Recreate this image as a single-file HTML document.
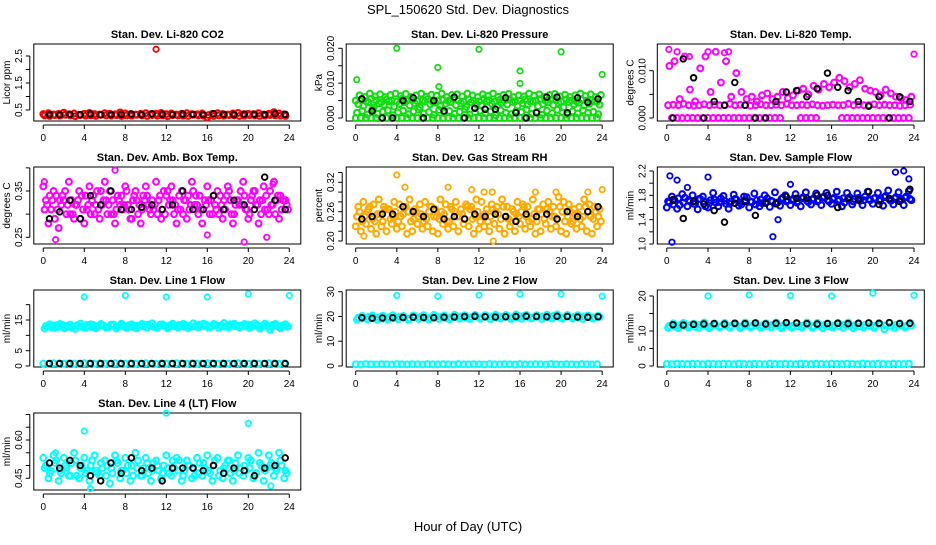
<!DOCTYPE html>
<html><head><meta charset="utf-8"><style>
body{margin:0;background:#fff;}
svg text{font-family:"Liberation Sans",Arial,sans-serif;}
</style></head><body>
<svg id="chart" width="936" height="540" viewBox="0 0 936 540" xmlns="http://www.w3.org/2000/svg">
<rect width="936" height="540" fill="#fff"/>
<text x="468" y="14" font-size="13" text-anchor="middle">SPL_150620  Std. Dev. Diagnostics</text>
<text x="468" y="531" font-size="13" text-anchor="middle">Hour of Day (UTC)</text>
</svg>
<script>
const co2A=[0.35,0.38,0.33,0.36,0.4,0.34,0.37,0.32,0.36,0.39,0.35,0.33,0.38,0.36,0.34,0.41,0.37,0.35,0.33,0.36,0.38,0.34,0.36,0.39,0.35,0.37,0.33,0.36,0.38,0.35,0.34,0.37,0.22,0.36,0.38,0.35,0.33,0.37,0.39,0.34,0.36,0.35,0.38,0.33,0.36,0.42,0.37,0.34];
const co2B=[0.3,0.28,0.31,0.29,0.32,0.3,0.27,0.31,0.29,0.3,0.28,0.32,0.3,0.29,0.31,0.28,0.3,0.29,0.32,0.3,0.28,0.31,0.29,0.3,0.27,0.31,0.3,0.29,0.28,0.32,0.3,0.29,0.31,0.28,0.3,0.29,0.31,0.3,0.28,0.29,0.31,0.3,0.28,0.29,0.31,0.3,0.29,0.28];
const co2K=[0.33,0.32,0.34,0.33,0.35,0.32,0.33,0.34,0.35,0.33,0.36,0.34,0.33,0.35,0.34,0.33,0.36,0.34,0.33,0.35,0.34,0.33,0.36,0.34];
const co2OutH=[11]; const co2OutV=[2.75];

const pressA=[0.0065,0.006,0.007,0.0062,0.0068,0.006,0.0066,0.007,0.0063,0.0069,0.006,0.0065,0.007,0.0061,0.0067,0.0064,0.007,0.006,0.0066,0.0068,0.0062,0.007,0.0065,0.006,0.0068,0.0063,0.007,0.0061,0.0066,0.0069,0.006,0.0065,0.0062,0.007,0.0064,0.0068,0.006,0.0066,0.0069,0.0062,0.0067,0.006,0.0065,0.007,0.0063,0.0068,0.006,0.0066];
const pressB=[0.004,0.0035,0.0045,0.003,0.0042,0.0038,0.0048,0.0033,0.004,0.0045,0.0036,0.0042,0.003,0.0047,0.0039,0.0044,0.0034,0.0041,0.0046,0.0037,0.0043,0.0032,0.0045,0.004,0.0036,0.0048,0.0041,0.0033,0.0044,0.0039,0.0046,0.0035,0.0042,0.0038,0.0047,0.0034,0.004,0.0045,0.0037,0.0043,0.0031,0.0046,0.0039,0.0044,0.0036,0.0041,0.0047,0.0038];
const pressC=[0.0015,0.002,0.001,0.0025,0.0012,0.0018,0.0022,0.0008,0.0016,0.0021,0.0011,0.0019,0.0024,0.0013,0.0017,0.0009,0.0023,0.0014,0.002,0.0012,0.0018,0.0025,0.001,0.0016,0.0021,0.0013,0.0019,0.0008,0.0022,0.0015,0.0011,0.002,0.0017,0.0024,0.0012,0.0018,0.0009,0.0021,0.0014,0.0023,0.0016,0.001,0.0019,0.0013,0.0022,0.0015,0.0018,0.0011];
const pressD=[0,0,0,0,0,0,0,0,0,0,0,0,0,0,0,0,0,0,0,0,0,0,0,0,0,0,0,0,0,0,0,0,0,0,0,0,0,0,0,0,0,0,0,0,0,0,0,0];
const pressE=[0.005,0.0052,0.0048,0.0055,0.005,0.0045,0.0053,0.005,0.0047,0.0055,0.005,0.0052,0.0048,0.005,0.0054,0.0046,0.005,0.0052,0.0049,0.0055,0.005,0.0047,0.0053,0.005,0.0048,0.0055,0.0051,0.0046,0.0052,0.005,0.0054,0.0048,0.005,0.0053,0.0047,0.005,0.0055,0.0049,0.0052,0.005,0.0046,0.0054,0.005,0.0048,0.0053,0.005,0.0051,0.0047];
const pressK=[0.0055,0.002,0,0,0.005,0.0058,0,0.005,0.002,0.006,0,0.0028,0.0025,0.0025,0.0058,0.0015,0,0.0015,0.006,0.006,0.0015,0.0058,0.0045,0.0055];
const pressOutH=[0.1,4,8,8.1,12,16,16,20,24]; const pressOutV=[0.011,0.02,0.0145,0.009,0.0197,0.0135,0.0099,0.019,0.0125];

const tempA=[0.0027,0.0028,0.0027,0.003,0.0027,0.0026,0.0027,0.0029,0.0027,0.0028,0.0027,0.0027,0.003,0.0027,0.0028,0.0027,0.0026,0.0027,0.0029,0.0027,0.0027,0.0028,0.0027,0.003,0.0027,0.0027,0.0028,0.0027,0.0029,0.0027,0.0026,0.0027,0.0028,0.0027,0.0027,0.003,0.0027,0.0028,0.0027,0.0027,0.0029,0.0027,0.0028,0.0027,0.0027,0.0026,0.0027,0.0028];
const tempB=[0.011,0.012,0.004,0.013,0.006,0.0035,0.0105,0.013,0.0055,0.014,0.0075,0.012,0.0045,0.0095,0.0055,0.004,0.0045,0.0035,0.0048,0.0052,0.004,0.0045,0.0055,0.0042,0.0048,0.0058,0.0062,0.005,0.0068,0.006,0.0072,0.0065,0.0075,0.0085,0.0078,0.0065,0.0072,0.008,0.0062,0.0058,0.0055,0.0048,0.006,0.0052,0.0045,0.0042,0.0038,0.0045];
const tempC=[null,0,0,0,0,0,0,0,0,0,0,0,0,0,0,0,0,0,0,0,0,0,0,null,null,null,0,0,0,0,null,null,null,null,0,0,0,0,0,0,0,0,0,0,0,0,0,0];
const tempK=[0,0.0125,0.0085,0,0.0035,0.0027,0.0075,0.0027,0,0,0.0035,0.0055,0.0058,0.0045,0.0062,0.0095,0.0065,0.0058,0.0035,0.0025,0.0045,0,0.0045,0.0035];
const tempOutH=[0.2,1,4,6,24,2.2,5.6]; const tempOutV=[0.0145,0.014,0.014,0.014,0.0135,0.013,0.0138];

const ambA=[0.33,0.31,0.34,0.32,0.3,0.33,0.32,0.34,0.31,0.33,0.35,0.32,0.3,0.33,0.34,0.31,0.32,0.33,0.3,0.34,0.32,0.31,0.33,0.35,0.32,0.3,0.34,0.33,0.31,0.32,0.34,0.33,0.3,0.32,0.34,0.31,0.33,0.32,0.35,0.31,0.33,0.32,0.3,0.34,0.32,0.33,0.31,0.32];
const ambB=[0.31,0.34,0.29,0.33,0.35,0.3,0.32,0.29,0.34,0.3,0.32,0.35,0.33,0.3,0.31,0.34,0.35,0.29,0.33,0.31,0.34,0.33,0.3,0.31,0.35,0.33,0.31,0.3,0.34,0.35,0.3,0.31,0.33,0.34,0.3,0.33,0.35,0.3,0.32,0.34,0.3,0.35,0.33,0.31,0.35,0.3,0.34,0.33];
const ambC=[0.36,0.28,0.35,0.27,0.33,0.37,0.29,0.35,0.28,0.36,0.3,0.29,0.37,0.35,0.28,0.32,0.36,0.29,0.35,0.28,0.36,0.3,0.37,0.29,0.34,0.36,0.28,0.35,0.29,0.37,0.32,0.28,0.36,0.3,0.35,0.29,0.36,0.28,0.33,0.37,0.29,0.35,0.28,0.36,0.3,0.37,0.29,0.33];
const ambD=[0.32,0.33,0.31,0.34,0.32,0.3,0.33,0.31,0.32,0.34,0.31,0.33,0.32,0.3,0.33,0.32,0.31,0.34,0.32,0.33,0.31,0.32,0.34,0.3,0.33,0.32,0.31,0.33,0.32,0.34,0.31,0.32,0.33,0.31,0.32,0.34,0.3,0.33,0.32,0.31,0.34,0.32,0.33,0.31,0.32,0.34,0.33,0.31];
const ambK=[0.29,0.305,0.33,0.29,0.34,0.32,0.35,0.31,0.31,0.315,0.32,0.31,0.32,0.35,0.31,0.31,0.34,0.31,0.33,0.32,0.31,0.38,0.33,0.31];
const ambOutH=[7,1.2,16,19.6,21.8,22.4,0.1]; const ambOutV=[0.395,0.245,0.255,0.24,0.25,0.365,0.37];

const rhA=[0.25,0.24,0.26,0.245,0.255,0.24,0.265,0.25,0.24,0.255,0.26,0.245,0.25,0.24,0.26,0.25,0.245,0.255,0.24,0.26,0.25,0.245,0.265,0.25,0.24,0.255,0.25,0.26,0.245,0.25,0.24,0.255,0.26,0.25,0.245,0.24,0.255,0.265,0.25,0.245,0.26,0.25,0.24,0.255,0.25,0.26,0.245,0.25];
const rhB=[0.27,0.28,0.265,0.275,0.285,0.27,0.265,0.28,0.275,0.27,0.285,0.265,0.275,0.28,0.27,0.265,0.285,0.275,0.27,0.28,0.265,0.275,0.27,0.285,0.28,0.265,0.275,0.27,0.285,0.27,0.265,0.28,0.275,0.27,0.285,0.265,0.275,0.28,0.27,0.29,0.28,0.275,0.265,0.27,0.285,0.275,0.27,0.265];
const rhC=[0.23,0.22,0.235,0.225,0.215,0.23,0.22,0.235,0.225,0.23,0.215,0.22,0.235,0.225,0.23,0.22,0.215,0.235,0.225,0.23,0.22,0.235,0.23,0.215,0.225,0.23,0.22,0.235,0.225,0.215,0.23,0.22,0.235,0.225,0.23,0.215,0.22,0.235,0.225,0.23,0.22,0.215,0.235,0.225,0.23,0.22,0.215,0.23];
const rhD=[0.26,0.25,0.27,0.24,0.255,0.265,0.245,0.26,0.25,0.27,0.24,0.26,0.255,0.245,0.27,0.25,0.26,0.24,0.265,0.25,0.255,0.27,0.245,0.26,0.25,0.24,0.265,0.255,0.27,0.245,0.26,0.25,0.27,0.24,0.255,0.265,0.245,0.26,0.25,0.27,0.24,0.26,0.255,0.245,0.27,0.25,0.26,0.24];
const rhK=[0.245,0.25,0.255,0.255,0.27,0.26,0.25,0.265,0.245,0.25,0.245,0.255,0.25,0.255,0.25,0.24,0.255,0.25,0.255,0.245,0.26,0.25,0.26,0.27];
const rhOutH=[4,4.8,9,11.3,12.5,13.3,17.5,19.5,22.6,24,13.4,0.8]; const rhOutV=[0.335,0.31,0.31,0.305,0.3,0.3,0.3,0.3,0.3,0.305,0.2,0.21];

const flowA=[1.7,1.65,1.75,1.68,1.72,1.66,1.74,1.7,1.67,1.73,1.69,1.71,1.66,1.74,1.68,1.72,1.7,1.65,1.73,1.69,1.71,1.67,1.74,1.7,1.72,1.68,1.75,1.71,1.73,1.7,1.76,1.72,1.74,1.71,1.75,1.73,1.7,1.76,1.72,1.74,1.75,1.71,1.77,1.73,1.75,1.72,1.76,1.74];
const flowB=[1.6,1.78,1.58,1.82,1.62,1.8,1.57,1.78,1.6,1.84,1.62,1.79,1.58,1.81,1.63,1.78,1.6,1.83,1.62,1.8,1.61,1.85,1.63,1.8,1.64,1.82,1.62,1.85,1.65,1.83,1.64,1.84,1.66,1.86,1.62,1.84,1.65,1.83,1.64,1.86,1.66,1.84,1.63,1.88,1.65,1.85,1.64,1.87];
const flowC=[1.68,1.72,1.64,1.76,1.7,1.66,1.74,1.62,1.72,1.68,1.75,1.66,1.7,1.73,1.65,1.77,1.69,1.72,1.67,1.75,1.7,1.68,1.76,1.72,1.74,1.7,1.77,1.69,1.75,1.72,1.78,1.7,1.76,1.73,1.68,1.77,1.74,1.71,1.78,1.72,1.76,1.73,1.79,1.71,1.77,1.74,1.78,1.72];
const flowK=[1.73,1.42,1.7,1.66,1.55,1.36,1.67,1.7,1.47,1.67,1.66,1.78,1.75,1.75,1.8,1.8,1.6,1.75,1.73,1.86,1.65,1.75,1.7,1.9];
const flowOutH=[0.5,0.3,1,10.3,10.8,4,22.2,23,23.5,2,12]; const flowOutV=[1.03,2.12,2.05,1.12,1.4,2.1,2.18,2.2,2.07,1.93,1.98];

const l1A=[13,12.6,13.3,12.8,13.1,12.5,13.2,12.9,13.4,12.7,13,13.3,12.6,13.1,12.8,13.4,13,12.7,13.2,12.9,13.5,12.8,13.1,13.3,12.7,13,13.4,12.8,13.2,12.9,13.5,13,12.7,13.3,13.1,12.8,13.6,13,13.2,12.9,13.4,13.1,12.8,13.3,12.6,13.2,13,12.8];
const l1B=[12.2,13.6,12.4,13.7,12.3,13.5,12.1,13.8,12.4,13.6,12.3,13.7,12.5,13.5,12.2,13.8,12.4,13.6,12.3,13.7,12.5,13.9,12.4,13.6,12.3,13.8,12.5,13.7,12.4,13.9,12.6,13.8,12.5,13.7,12.4,14,12.6,13.8,12.5,13.7,12.4,13.9,12.2,13.8,11.8,13.7,12.3,13.6];
const l1C=[0.8,0.7,0.9,0.8,0.75,0.85,0.8,0.7,0.9,0.8,0.75,0.85,0.8,0.7,0.9,0.8,0.75,0.85,0.8,0.7,0.9,0.8,0.75,0.85,0.8,0.7,0.9,0.8,0.75,0.85,0.8,0.7,0.9,0.8,0.75,0.85,0.8,0.7,0.9,0.8,0.75,0.85,0.8,0.7,0.9,0.8,0.75,0.85];
const l1D=[12.9,13.2,12.7,13.4,13,12.8,13.3,12.6,13.1,13.4,12.9,13.2,12.7,13.5,13,12.8,13.3,13.1,12.9,13.4,13.2,12.8,13.5,13,13.3,12.9,13.1,13.4,12.8,13.2,13,13.5,12.9,13.3,13.1,12.8,13.4,13.2,13,13.5,12.9,13.3,13.1,12.8,13.4,13,13.2,12.9];
const l1K=[0.8,0.8,0.8,0.8,0.8,0.8,0.8,0.8,0.8,0.8,0.8,0.8,0.8,0.8,0.8,0.8,0.8,0.8,0.8,0.8,0.8,0.8,0.8,0.8];
const l1OutH=[4,8,12,16,20,24]; const l1OutV=[22.5,23,22.5,22.5,23.5,23];

const l2A=[19.5,19.2,19.8,19.4,19.6,19.1,19.7,19.3,19.9,19.5,19.2,19.6,19.8,19.4,19.5,19.7,19.9,19.3,19.6,19.8,20,19.5,19.7,19.9,19.6,20.1,19.8,19.5,19.9,20,19.7,19.6,20.1,19.8,19.6,19.9,20,19.7,20.2,19.8,19.6,20,19.8,19.5,20,19.7,19.6,19.8];
const l2B=[18.7,20.2,18.9,20.4,18.6,20.3,18.8,20.5,18.9,20.2,18.7,20.4,19,20.5,18.8,20.6,19,20.4,18.9,20.7,19.1,20.5,19,20.6,19.1,20.5,18.9,20.7,19.2,20.6,19,20.8,19.1,20.6,19.2,20.5,19,20.7,19.2,20.8,19.1,20.6,19.2,20.5,19,20.4,19.1,20.3];
const l2C=[0.7,0.6,0.8,0.7,0.65,0.75,0.7,0.6,0.8,0.7,0.65,0.75,0.7,0.6,0.8,0.7,0.65,0.75,0.7,0.6,0.8,0.7,0.65,0.75,0.7,0.6,0.8,0.7,0.65,0.75,0.7,0.6,0.8,0.7,0.65,0.75,0.7,0.6,0.8,0.7,0.65,0.75,0.7,0.6,0.8,0.7,0.65,0.75];
const l2K=[19.5,19.3,19.4,19.5,19.6,19.7,19.6,19.5,19.7,19.8,20,20.1,19.9,19.8,19.9,20,20.1,20,19.9,20.1,20,19.8,19.7,19.9];
const l2OutH=[4,8,12,16,20,24]; const l2OutV=[28.5,28.2,28.6,29,29,28.2];

const l3A=[11.5,11.3,11.7,11.4,11.6,11.2,11.8,11.5,11.3,11.7,11.4,11.6,11.5,11.8,11.3,11.6,11.4,11.7,11.5,11.3,11.8,11.6,11.4,11.7,11.5,11.3,11.6,11.8,11.4,11.5,11.7,11.3,11.6,11.4,11.8,11.5,11.6,11.3,11.7,11.4,11.5,11.8,11.6,11.3,11.7,11.5,11.4,11.6];
const l3B=[10.9,12.2,10.8,12.3,11,12.1,10.9,12.4,10.8,12.2,11,12.3,10.9,12.2,10.8,12.4,11,12.3,10.9,12.2,11,12.4,10.8,12.3,10.9,12.2,11,12.4,10.9,12.3,10.8,12.2,11,12.3,10.9,12.4,10.8,12.2,11,12.3,10.9,12.2,10.5,12.3,10.9,12.2,11,12.3];
const l3C=[0.6,0.5,0.7,0.6,0.55,0.65,0.6,0.5,0.7,0.6,0.55,0.65,0.6,0.5,0.7,0.6,0.55,0.65,0.6,0.5,0.7,0.6,0.55,0.65,0.6,0.5,0.7,0.6,0.55,0.65,0.6,0.5,0.7,0.6,0.55,0.65,0.6,0.5,0.7,0.6,0.55,0.65,0.6,0.5,0.7,0.6,0.55,0.65];
const l3K=[11.8,11.7,11.9,12,12.1,12,12.2,12.1,12.3,12,12.2,12.4,12.3,12.1,12,12.1,12.2,12.1,12.2,12.3,12.2,12.4,12.1,12.2];
const l3OutH=[4,8,12,16,20,24]; const l3OutV=[20,20.3,20.1,20,20.8,20.2];

const l4A=[0.49,0.47,0.51,0.48,0.5,0.46,0.52,0.49,0.47,0.5,0.48,0.51,0.46,0.49,0.52,0.48,0.47,0.5,0.49,0.46,0.51,0.48,0.5,0.47,0.49,0.52,0.48,0.46,0.5,0.49,0.47,0.51,0.48,0.5,0.46,0.49,0.52,0.48,0.47,0.5,0.49,0.46,0.51,0.48,0.5,0.49,0.52,0.48];
const l4B=[0.53,0.45,0.54,0.44,0.53,0.46,0.55,0.45,0.53,0.44,0.54,0.46,0.52,0.43,0.54,0.45,0.53,0.44,0.55,0.46,0.53,0.44,0.52,0.45,0.54,0.46,0.53,0.44,0.52,0.45,0.53,0.46,0.54,0.44,0.53,0.45,0.52,0.44,0.54,0.46,0.53,0.45,0.55,0.44,0.54,0.46,0.55,0.45];
const l4C=[0.5,0.48,0.52,0.47,0.49,0.51,0.46,0.5,0.48,0.52,0.47,0.49,0.5,0.47,0.51,0.48,0.5,0.46,0.52,0.49,0.47,0.51,0.48,0.5,0.47,0.49,0.52,0.48,0.5,0.46,0.51,0.49,0.47,0.52,0.48,0.5,0.47,0.51,0.49,0.48,0.52,0.47,0.5,0.49,0.51,0.48,0.5,0.47];
const l4K=[0.51,0.49,0.52,0.5,0.46,0.44,0.51,0.47,0.53,0.48,0.49,0.44,0.49,0.49,0.49,0.48,0.5,0.47,0.49,0.48,0.46,0.49,0.5,0.53];
const l4OutH=[4,12,20,1.2,4.6,22.2]; const l4OutV=[0.635,0.705,0.665,0.55,0.41,0.42];

const xTicks=[0,4,8,12,16,20,24];

const panels=[
 {name:'co2',title:'Stan. Dev. Li-820 CO2',ylab:'Licor ppm',col:0,row:0,v0:0.5,p0:110,v1:2.5,p1:56,ticks:[0.5,1,1.5,2,2.5],labels:['0.5','1.5','2.5'],color:'#ff0000',series:[co2A,co2B],k:co2K,oh:co2OutH,ov:co2OutV},
 {name:'pressure',title:'Stan. Dev. Li-820 Pressure',ylab:'kPa',col:1,row:0,v0:0,p0:118,v1:0.02,p1:48.3,ticks:[0,0.005,0.01,0.015,0.02],labels:['0.000','0.010','0.020'],color:'#11dd11',series:[pressD,pressC,pressB,pressA,pressE],k:pressK,oh:pressOutH,ov:pressOutV},
 {name:'li820-temp',title:'Stan. Dev. Li-820 Temp.',ylab:'degrees C',col:2,row:0,v0:0,p0:118,v1:0.01,p1:70.7,ticks:[0,0.005,0.01],labels:['0.000','0.010'],color:'#ff00ff',series:[tempC,tempA,tempB],k:tempK,oh:tempOutH,ov:tempOutV},
 {name:'amb-box-temp',title:'Stan. Dev. Amb. Box Temp.',ylab:'degrees C',col:0,row:1,v0:0.25,p0:237.3,v1:0.35,p1:191,ticks:[0.25,0.3,0.35,0.4],labels:['0.25','0.35'],color:'#ff00ff',series:[ambC,ambB,ambA,ambD],k:ambK,oh:ambOutH,ov:ambOutV},
 {name:'gas-stream-rh',title:'Stan. Dev. Gas Stream RH',ylab:'percent',col:1,row:1,v0:0.2,p0:241,v1:0.32,p1:182.3,ticks:[0.2,0.22,0.24,0.26,0.28,0.3,0.32,0.34],labels:['0.20','0.26','0.32'],color:'#ffaa00',series:[rhC,rhA,rhB,rhD],k:rhK,oh:rhOutH,ov:rhOutV},
 {name:'sample-flow',title:'Stan. Dev. Sample Flow',ylab:'ml/min',col:2,row:1,v0:1,p0:244,v1:2.2,p1:171,ticks:[1,1.2,1.4,1.6,1.8,2,2.2],labels:['1.0','1.4','1.8','2.2'],color:'#0000ff',series:[flowB,flowA,flowC],k:flowK,oh:flowOutH,ov:flowOutV},
 {name:'line1-flow',title:'Stan. Dev. Line 1 Flow',ylab:'ml/min',col:0,row:2,v0:0,p0:366,v1:15,p1:320,ticks:[0,5,10,15,20],labels:['0','5','15'],color:'#00ffff',series:[l1C,l1B,l1A,l1D],k:l1K,oh:l1OutH,ov:l1OutV},
 {name:'line2-flow',title:'Stan. Dev. Line 2 Flow',ylab:'ml/min',col:1,row:2,v0:0,p0:366,v1:30,p1:291.7,ticks:[0,10,20,30],labels:['0','10','20','30'],color:'#00ffff',series:[l2C,l2B,l2A],k:l2K,oh:l2OutH,ov:l2OutV},
 {name:'line3-flow',title:'Stan. Dev. Line 3 Flow',ylab:'ml/min',col:2,row:2,v0:0,p0:366,v1:20,p1:296,ticks:[0,5,10,15,20],labels:['0','5','10','20'],color:'#00ffff',series:[l3C,l3B,l3A],k:l3K,oh:l3OutH,ov:l3OutV},
 {name:'line4-flow',title:'Stan. Dev. Line 4 (LT) Flow',ylab:'ml/min',col:0,row:3,v0:0.45,p0:478.3,v1:0.6,p1:440,ticks:[0.45,0.5,0.55,0.6,0.65,0.7],labels:['0.45','0.60'],color:'#00ffff',series:[l4B,l4A,l4C],k:l4K,oh:l4OutH,ov:l4OutV}
];
const NS='http://www.w3.org/2000/svg';
const svg=document.getElementById('chart');
const colX0=[43.3,355.7,666.8], colScale=[10.25,10.27,10.3], rowTop=[44,167,290,413];
function mk(tag,attrs,parent){const e=document.createElementNS(NS,tag);for(const k in attrs)e.setAttribute(k,attrs[k]);parent.appendChild(e);return e;}
panels.forEach(p=>{
 const g=mk('g',{},svg);
 
 
 const x0=colX0[p.col], sc=colScale[p.col];
 const xS=h=>x0+h*sc;
 const yS=v=>p.p0+(v-p.v0)*(p.p1-p.p0)/(p.v1-p.v0);
 const L=x0-9.5, R=x0+257.5, T=rowTop[p.row], B=T+77;
 const t=mk('text',{x:(L+R)/2,y:T-6,'font-size':11,'font-weight':'bold','text-anchor':'middle'},g);
 t.textContent=p.title;
 
 
 const fr=mk('rect',{x:L,y:T,width:R-L,height:B-T,fill:'none',stroke:'#000','stroke-width':1},g);
 
 
 mk('line',{x1:xS(0),x2:xS(24),y1:B+4,y2:B+4,stroke:'#000'},g);
 xTicks.forEach(h=>{
  mk('line',{x1:xS(h),x2:xS(h),y1:B+4,y2:B+8,stroke:'#000'},g);
  const tl=mk('text',{x:xS(h),y:B+20,'font-size':10,'text-anchor':'middle'},g);
  tl.textContent=h;
  
  
 });
 mk('line',{x1:L-4,x2:L-4,y1:yS(p.ticks[0]),y2:yS(p.ticks[p.ticks.length-1]),stroke:'#000'},g);
 p.ticks.forEach(v=>{mk('line',{x1:L-8,x2:L-4,y1:yS(v),y2:yS(v),stroke:'#000'},g);});
 p.labels.forEach(s=>{
  const yy=yS(parseFloat(s)), xx=L-12;
  const tl=mk('text',{x:xx,y:yy,'font-size':10,'text-anchor':'middle',transform:`rotate(-90 ${xx} ${yy})`},g);
  tl.textContent=s;
  
  
 });
 const yl=mk('text',{x:L-24,y:(T+B)/2,'font-size':10,'text-anchor':'middle',transform:`rotate(-90 ${L-24} ${(T+B)/2})`},g);
 yl.textContent=p.ylab;
 
 
 p.series.forEach((arr,si)=>{
  arr.forEach((v,i)=>{
   if(v===null)return;
   const h=i*0.5+(si%4)*0.125;
   const c=mk('circle',{cx:xS(h),cy:yS(v),r:2.9,fill:'none',stroke:p.color,'stroke-width':2.1},g);
   
   
  });
 });
 p.oh.forEach((h,i)=>{
  const c=mk('circle',{cx:xS(h),cy:yS(p.ov[i]),r:2.7,fill:'none',stroke:p.color,'stroke-width':1.8},g);
  
  
 });
 p.k.forEach((v,i)=>{
  const h=Math.min(i+0.6,23.8);
  const c=mk('circle',{cx:xS(h),cy:yS(v),r:2.8,fill:'none',stroke:'#000','stroke-width':1.9},g);
  
  
 });
});
</script>
</body></html>
